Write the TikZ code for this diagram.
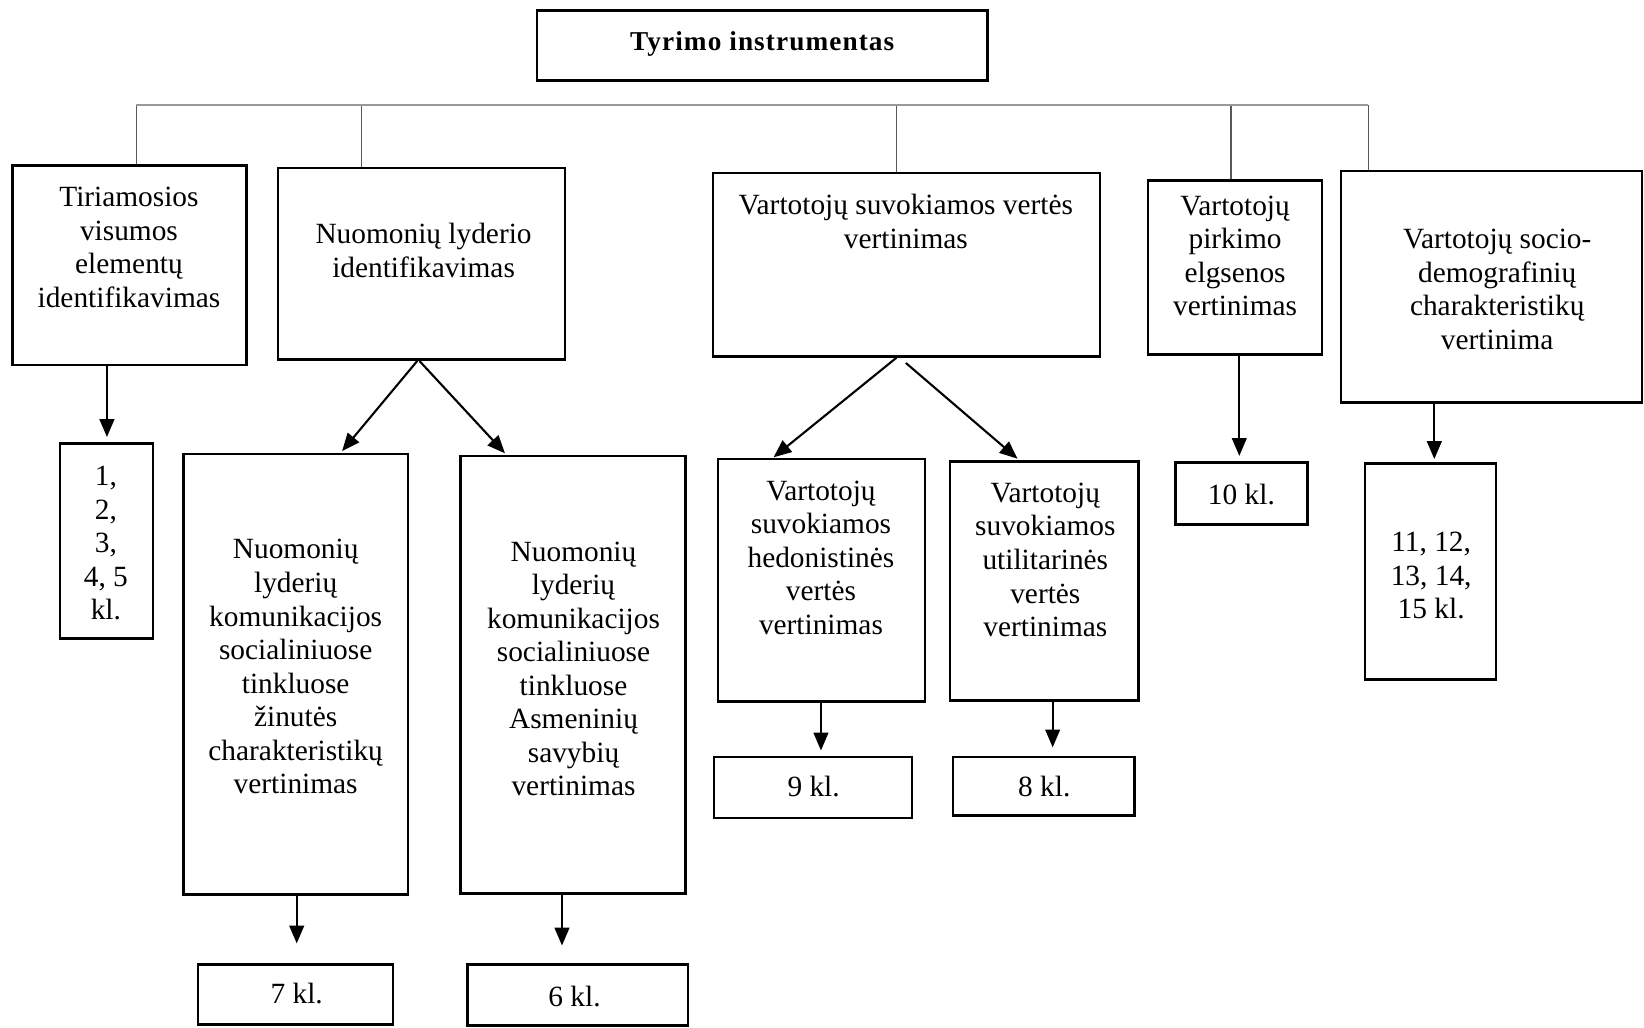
\documentclass[tikz,border=0pt]{standalone}
\usepackage{fontspec}
\setmainfont{Liberation Serif}
\newfontfamily\titlefont[LetterSpace=4]{Liberation Serif}
\usetikzlibrary{arrows.meta}
\begin{document}
\begin{tikzpicture}[x=1pt,y=-1pt,
  box/.style={draw=black, line width=2.4pt, inner sep=0pt},
  txt/.style={align=center, font=\fontsize{28}{32}\selectfont, inner sep=0pt},
  arr/.style={line width=2pt, -{Triangle[length=17pt,width=14pt]}},
  bus/.style={draw=black!40, line width=2.5pt},
  drop/.style={draw=black!65, line width=1.4pt}]
\useasboundingbox (0,0) rectangle (1568,980);

% ---- title ----
\node[box, minimum width=430pt, minimum height=67pt] (top) at (727,43.5) {};
\node[font=\titlefont\fontsize{26}{30}\selectfont\bfseries, inner sep=0pt] (toptxt) at (727,42) {Tyrimo instrumentas};

% ---- first level ----
\node[box, minimum width=223pt, minimum height=190pt] (b1) at (123.5,253) {};
\node[txt] (b1t) at (123,236) {Tiriamosios\\visumos\\elementų\\identifikavimas};

\node[box, minimum width=274pt, minimum height=183pt] (b2) at (402,251.5) {};
\node[txt] (b2t) at (404,239) {Nuomonių lyderio\\identifikavimas};

\node[box, minimum width=369pt, minimum height=175pt] (b3) at (864.5,252.5) {};
\node[txt] (b3t) at (864,211) {Vartotojų suvokiamos vertės\\vertinimas};

\node[box, minimum width=166pt, minimum height=166pt] (b4) at (1178,255) {};
\node[txt] (b4t) at (1178,244) {Vartotojų\\pirkimo\\elgsenos\\vertinimas};

\node[box, minimum width=287pt, minimum height=221pt] (b5) at (1422.5,273.5) {};
\node[txt] (b5t) at (1428,276) {Vartotojų socio-\\demografinių\\charakteristikų\\vertinima};

% ---- second level ----
\node[box, minimum width=89pt, minimum height=186pt] (n1) at (101.5,516) {};
\node[txt] (n1t) at (101,518) {1,\\2,\\3,\\4, 5\\kl.};

\node[box, minimum width=214pt, minimum height=420pt] (b2a) at (282,643) {};
\node[txt] (b2at) at (282,636) {Nuomonių\\lyderių\\komunikacijos\\socialiniuose\\tinkluose\\žinutės\\charakteristikų\\vertinimas};

\node[box, minimum width=215pt, minimum height=417pt] (b2b) at (546.5,643.5) {};
\node[txt] (b2bt) at (547,638) {Nuomonių\\lyderių\\komunikacijos\\socialiniuose\\tinkluose\\Asmeninių\\savybių\\vertinimas};

\node[box, minimum width=197pt, minimum height=231pt] (b3a) at (783.5,553.5) {};
\node[txt] (b3at) at (783,532) {Vartotojų\\suvokiamos\\hedonistinės\\vertės\\vertinimas};

\node[box, minimum width=180pt, minimum height=228pt] (b3b) at (996,554) {};
\node[txt] (b3bt) at (997,534) {Vartotojų\\suvokiamos\\utilitarinės\\vertės\\vertinimas};

\node[box, minimum width=126pt, minimum height=59pt] (k10) at (1184,470.5) {};
\node[txt] (k10t) at (1184,472) {10 kl.};

\node[box, minimum width=125pt, minimum height=206pt] (n5) at (1364.5,545) {};
\node[txt] (n5t) at (1365,549) {11, 12,\\13, 14,\\15 kl.};

% ---- third level ----
\node[box, minimum width=186pt, minimum height=57pt] (k7) at (282,948.5) {};
\node[txt] (k7t) at (283,948) {7 kl.};

\node[box, minimum width=210pt, minimum height=58pt] (k6) at (551,949) {};
\node[txt] (k6t) at (548,950) {6 kl.};

\node[box, minimum width=189pt, minimum height=58pt] (k9) at (775.5,751) {};
\node[txt] (k9t) at (776,750) {9 kl.};

\node[box, minimum width=173pt, minimum height=56pt] (k8) at (995.5,750) {};
\node[txt] (k8t) at (996,750) {8 kl.};

% ---- tree from the title level ----
\coordinate (j1) at (130,100);
\coordinate (j2) at (345,100);
\coordinate (j3) at (855,100);
\coordinate (j4) at (1174,100);
\coordinate (j5) at (1305,100);
\draw[drop] (j1) -- (j1 |- b1.north);
\draw[drop] (j2) -- (j2 |- b2.north);
\draw[drop] (j3) -- (j3 |- b3.north);
\draw[drop] (j4) -- (j4 |- b4.north);
\draw[drop] (j5) -- (j5 |- b5.north);
\draw[bus] (j1) -- (j5);

% ---- arrows ----
\draw[arr, shorten >=5pt] ([xshift=-21.5pt]b1.south) -- ([xshift=-21.5pt]b1.south |- n1.north);
\draw[arr, shorten >=2pt] ([xshift=-4pt]b2.south) -- ([xshift=43pt]b2a.north);
\draw[arr, shorten >=2pt] ([xshift=-2pt]b2.south) -- ([xshift=-63.5pt]b2b.north);
\draw[arr, shorten >=1pt] ([xshift=-9.5pt]b3.south) -- ([xshift=-46.5pt]b3a.north);
\draw[arr, shorten >=2pt] ([xshift=-0.5pt,yshift=-5pt]b3.south) -- ([xshift=-24pt]b3b.north);
\draw[arr, shorten >=5pt] ([xshift=4pt]b4.south) -- ([xshift=4pt]b4.south |- k10.north);
\draw[arr, shorten >=3pt] ([xshift=-54.5pt]b5.south) -- ([xshift=-54.5pt]b5.south |- n5.north);
\draw[arr, shorten >=19pt] ([xshift=1pt]b2a.south) -- ([xshift=1pt]b2a.south |- k7.north);
\draw[arr, shorten >=17pt] ([xshift=-10.5pt]b2b.south) -- ([xshift=-10.5pt]b2b.south |- k6.north);
\draw[arr, shorten >=5pt] ([xshift=-0.5pt]b3a.south) -- ([xshift=-0.5pt]b3a.south |- k9.north);
\draw[arr, shorten >=8pt] ([xshift=8pt]b3b.south) -- ([xshift=8pt]b3b.south |- k8.north);
\end{tikzpicture}
\end{document}
